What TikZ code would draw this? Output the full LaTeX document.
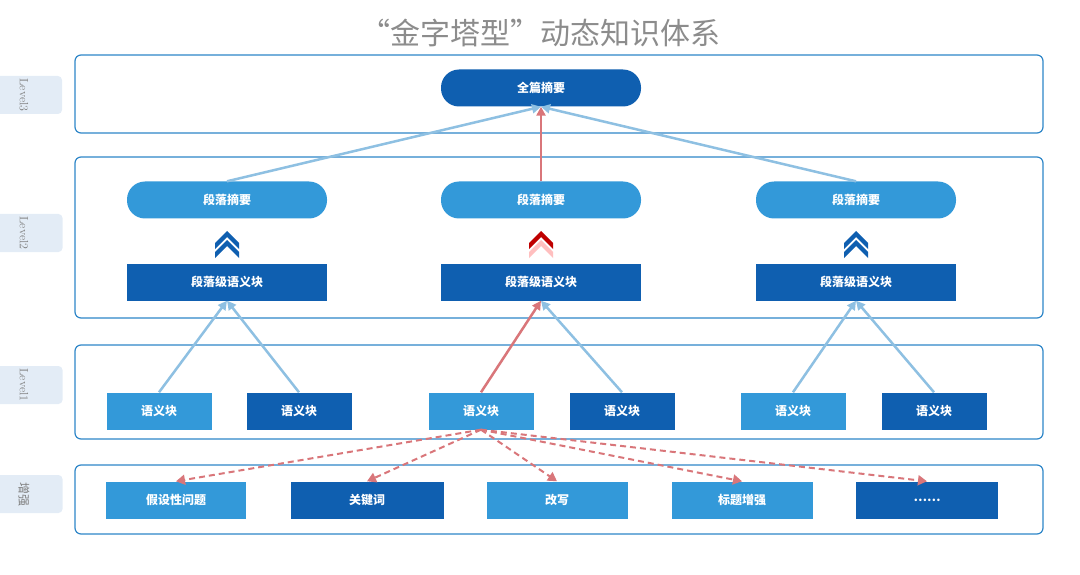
\documentclass[tikz,border=0pt]{standalone}
\usepackage{fontspec}
\newfontfamily\cjk{Noto Sans CJK SC}
\usetikzlibrary{arrows.meta}
\definecolor{dk}{HTML}{0F5FB0}
\definecolor{lt}{HTML}{3399D9}
\definecolor{pan}{HTML}{2E86C8}
\definecolor{lab}{HTML}{E3ECF6}
\definecolor{bl}{HTML}{8EC0E2}
\definecolor{rd}{HTML}{D9767A}
\tikzset{
  x=1pt,y=-1pt,
  panel/.style={draw=pan,line width=1.2pt,rounded corners=6pt,fill=white},
  sidelab/.style={fill=lab,rounded corners=4pt,minimum width=38pt,text=gray,font=\large,rotate=-90,inner sep=0pt},
  pill/.style={rounded corners=18pt,text=white,font=\cjk\bfseries\large,minimum width=200pt,minimum height=37pt,inner sep=0pt},
  box/.style={text=white,font=\cjk\bfseries\large,minimum height=37pt,inner sep=0pt},
  up/.style={-{Triangle[length=9pt,width=9pt]},line width=2.5pt},
  dsh/.style={-{Triangle[length=9pt,width=10pt]},line width=2pt,dashed,dash pattern=on 6pt off 4pt,draw=rd}
}
\begin{document}
\begin{tikzpicture}
\useasboundingbox (0,0) rectangle (1080,575);
\node[text=gray!90,font=\cjk\fontsize{30}{34}\selectfont] (title) at (540,33) {“金字塔型”动态知识体系};
% side labels
\node[sidelab,minimum height=76pt] (s3) at (24,95) {Level3};
\node[sidelab,minimum height=77pt] (s2) at (24,233) {Level2};
\node[sidelab,minimum height=77pt] (s1) at (24,385) {Level1};
\node[sidelab,minimum height=77pt,font=\cjk\large] (s0) at (24,494) {增强};
% panels
\draw[panel] (75,55) rectangle (1043,133);
\draw[panel] (75,157) rectangle (1043,318);
\draw[panel] (75,345) rectangle (1043,439);
\draw[panel] (75,465) rectangle (1043,534);
% level3
\node[pill,fill=dk] (top) at (541,88) {全篇摘要};
% level2
\foreach \i/\x in {a/227,b/541,c/856}{
  \node[pill,fill=lt] (p\i) at (\x,200) {段落摘要};
  \node[box,fill=dk,minimum width=200pt] (g\i) at (\x,282) {段落级语义块};
}
% chevrons
\foreach \x/\c in {227/dk,856/dk}{
  \fill[\c] (\x-12,243) -- (\x,231) -- (\x+12,243) -- (\x+12,249) -- (\x,237) -- (\x-12,249) -- cycle;
  \fill[\c] (\x-12,252) -- (\x,240) -- (\x+12,252) -- (\x+12,258) -- (\x,246) -- (\x-12,258) -- cycle;
}
\fill[red!75!black] (529,243) -- (541,231) -- (553,243) -- (553,249) -- (541,237) -- (529,249) -- cycle;
\fill[red!25] (529,252) -- (541,240) -- (553,252) -- (553,258) -- (541,246) -- (529,258) -- cycle;
% level1
\foreach \n/\x/\c in {1/159/lt,2/299/dk,3/481/lt,4/622/dk,5/793/lt,6/934/dk}{
  \node[box,fill=\c,minimum width=105pt] (b\n) at (\x,411) {语义块};
}
% enhance
\node[box,fill=lt,minimum width=140pt] (e1) at (176,500) {假设性问题};
\node[box,fill=dk,minimum width=153pt] (e2) at (367,500) {关键词};
\node[box,fill=lt,minimum width=141pt] (e3) at (557,500) {改写};
\node[box,fill=lt,minimum width=141pt] (e4) at (742,500) {标题增强};
\node[box,fill=dk,minimum width=142pt] (e5) at (927,500) {……};
% arrows
\draw[up,draw=bl] (pa.north) -- (top.south);
\draw[up,draw=rd] (pb.north) -- (top.south);
\draw[up,draw=bl] (pc.north) -- (top.south);
\draw[up,draw=bl] (b1.north) -- (ga.south);
\draw[up,draw=bl] (b2.north) -- (ga.south);
\draw[up,draw=rd] (b3.north) -- (gb.south);
\draw[up,draw=bl] (b4.north) -- (gb.south);
\draw[up,draw=bl] (b5.north) -- (gc.south);
\draw[up,draw=bl] (b6.north) -- (gc.south);
\foreach \e in {e1,e2,e3,e4,e5}{
  \draw[dsh] (b3.south) -- (\e.north);
}
\end{tikzpicture}
\end{document}
